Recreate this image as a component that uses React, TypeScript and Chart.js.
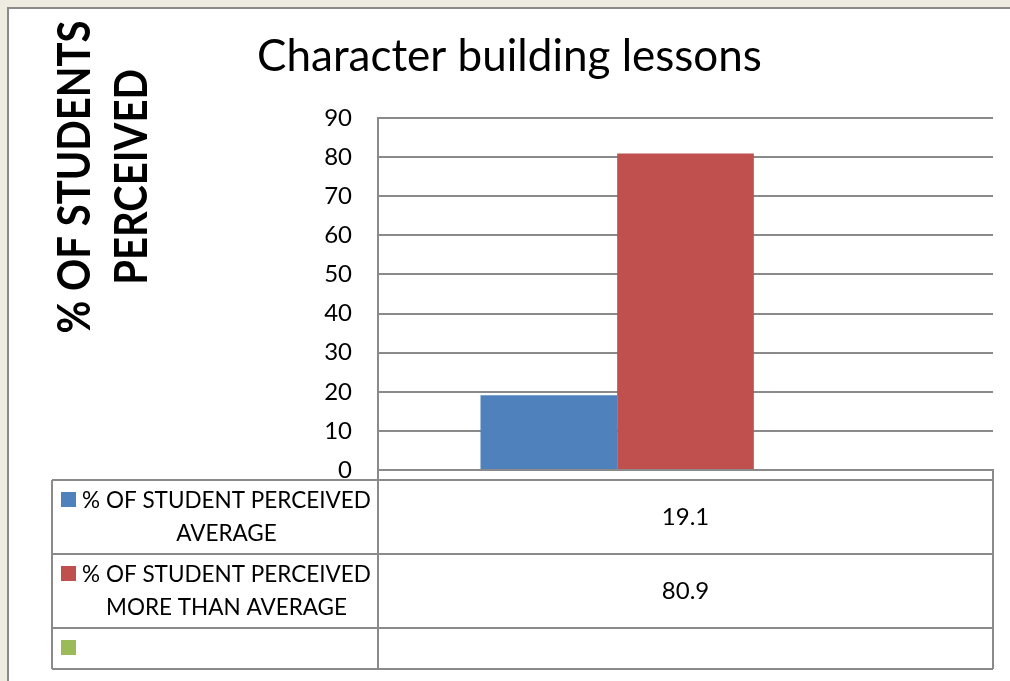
import React, { useEffect, useRef } from 'react';
import { Chart, registerables } from 'chart.js';

Chart.register(...registerables);

// ---- Data ----
const categories: string[] = [''];
const averageLabelLines: string[] = ['% OF STUDENT PERCEIVED', 'AVERAGE'];
const moreThanAverageLabelLines: string[] = ['% OF STUDENT PERCEIVED', 'MORE THAN AVERAGE'];
const thirdSeriesLabelLines: string[] = [''];
const averageValues: (number | null)[] = [19.1];
const moreThanAverageValues: (number | null)[] = [80.9];
const thirdSeriesValues: (number | null)[] = [null];
const yTickValues: number[] = [0, 10, 20, 30, 40, 50, 60, 70, 80, 90];
const chartTitle = 'Character building lessons';
const yAxisTitleLines: string[] = ['% OF STUDENTS', 'PERCEIVED'];

const BLUE = '#4F81BD';
const RED = '#C0504D';
const GREEN = '#9BBB59';
const GRAY = '#8a8a8a';
const FONT = 'Lato, "Open Sans", sans-serif';

const tablePlugin = {
  id: 'excelDataTable',
  afterDraw(chart: any) {
    const ctx = chart.ctx as CanvasRenderingContext2D;
    const ca = chart.chartArea;
    const xs = chart.scales.x;
    const tableLeft = 52;
    const stripTop = ca.bottom;
    const tableTop = ca.bottom + 10;
    const rowHeights = [74, 74, 41];
    const rowTops: number[] = [];
    let y = tableTop;
    rowHeights.forEach((h) => { rowTops.push(y); y += h; });
    const tableBottom = y;

    ctx.save();
    ctx.strokeStyle = GRAY;
    ctx.lineWidth = 2;
    const line = (x1: number, y1: number, x2: number, y2: number) => {
      ctx.beginPath();
      ctx.moveTo(x1, y1);
      ctx.lineTo(x2, y2);
      ctx.stroke();
    };
    line(ca.left, stripTop, ca.left, tableBottom);
    line(ca.right, stripTop, ca.right, tableBottom);
    line(tableLeft, tableTop, tableLeft, tableBottom);
    rowTops.forEach((t) => line(tableLeft, t, ca.right, t));
    line(tableLeft, tableBottom, ca.right, tableBottom);

    const datasets = chart.data.datasets;
    const labelCenter = (tableLeft + 31 + ca.left - 8) / 2;
    ctx.textBaseline = 'middle';
    datasets.forEach((ds: any, i: number) => {
      const top = rowTops[i];
      const h = rowHeights[i];
      ctx.fillStyle = ds.backgroundColor;
      ctx.fillRect(tableLeft + 9, top + 12, 15, 15);
      ctx.fillStyle = '#000';
      ctx.textAlign = 'center';
      ctx.font = `22.5px ${FONT}`;
      const lines: string[] = ds.tableLines;
      const lh = 33;
      const startY = top + h / 2 - ((lines.length - 1) * lh) / 2;
      lines.forEach((txt, k) => {
        if (txt) ctx.fillText(txt, labelCenter, startY + k * lh);
      });
      ctx.font = `24px ${FONT}`;
      ds.data.forEach((v: number | null, j: number) => {
        if (v === null || v === undefined) return;
        ctx.fillText(String(v), xs.getPixelForValue(j), top + h / 2);
      });
    });
    ctx.restore();

    // y axis title
    ctx.save();
    ctx.fillStyle = '#000';
    ctx.font = `bold 46px "Liberation Sans Narrow", ${FONT}`;
    ctx.textAlign = 'center';
    ctx.textBaseline = 'middle';
    const targetLen = 313;
    const w0 = ctx.measureText(yAxisTitleLines[0]).width;
    const sx = Math.min(1, targetLen / w0);
    const centers = [75, 132];
    yAxisTitleLines.forEach((txt, k) => {
      ctx.save();
      ctx.translate(centers[k], 177);
      ctx.rotate(-Math.PI / 2);
      ctx.scale(sx, 1);
      ctx.fillText(txt, 0, 0);
      ctx.restore();
    });
    ctx.restore();
  },
};

export default function App() {
  const canvasRef = useRef<HTMLCanvasElement | null>(null);

  useEffect(() => {
    document.body.style.margin = '0';
    const canvas = canvasRef.current;
    if (!canvas) return;
    const chart = new Chart(canvas, {
      type: 'bar',
      data: {
        labels: categories,
        datasets: [
          { label: averageLabelLines.join(' '), data: averageValues, backgroundColor: BLUE, tableLines: averageLabelLines } as any,
          { label: moreThanAverageLabelLines.join(' '), data: moreThanAverageValues, backgroundColor: RED, tableLines: moreThanAverageLabelLines } as any,
          { label: '', data: thirdSeriesValues, backgroundColor: GREEN, tableLines: thirdSeriesLabelLines } as any,
        ],
      },
      options: {
        responsive: false,
        animation: false,
        devicePixelRatio: 1,
        layout: { padding: { left: 26, right: 17, top: 0, bottom: 0 } },
        datasets: { bar: { categoryPercentage: 0.6667, barPercentage: 1, borderWidth: 0 } },
        plugins: {
          legend: { display: false },
          tooltip: { enabled: false },
          title: {
            display: true,
            text: chartTitle,
            color: '#000',
            font: { family: FONT, size: 44, weight: 'normal' },
            padding: { top: 30.6, bottom: 34.6 },
          },
        },
        scales: {
          x: {
            grid: { display: false },
            ticks: { display: false },
            border: { display: true, color: GRAY, width: 2 },
            afterFit: (s: any) => { s.height = 211; },
          },
          y: {
            min: 0,
            max: 90,
            afterBuildTicks: (s: any) => { s.ticks = yTickValues.map((v) => ({ value: v })); },
            ticks: { color: '#000', font: { family: FONT, size: 24 }, padding: 26 },
            grid: { color: GRAY, lineWidth: 2, drawTicks: false },
            border: { display: true, color: GRAY, width: 2 },
            afterFit: (s: any) => { s.width = 352; },
          },
        },
      },
      plugins: [tablePlugin],
    } as any);
    return () => chart.destroy();
  }, []);

  return (
    <div style={{ position: 'relative', width: 1010, height: 681, background: '#EEEBE0', overflow: 'hidden' }}>
      <div
        style={{
          position: 'absolute',
          left: 7,
          top: 7,
          width: 1010,
          height: 681,
          background: '#fff',
          borderLeft: `2px solid ${GRAY}`,
          borderTop: `2px solid ${GRAY}`,
        }}
      />
      <canvas ref={canvasRef} width={1010} height={681} style={{ position: 'absolute', left: 0, top: 0 }} />
    </div>
  );
}
